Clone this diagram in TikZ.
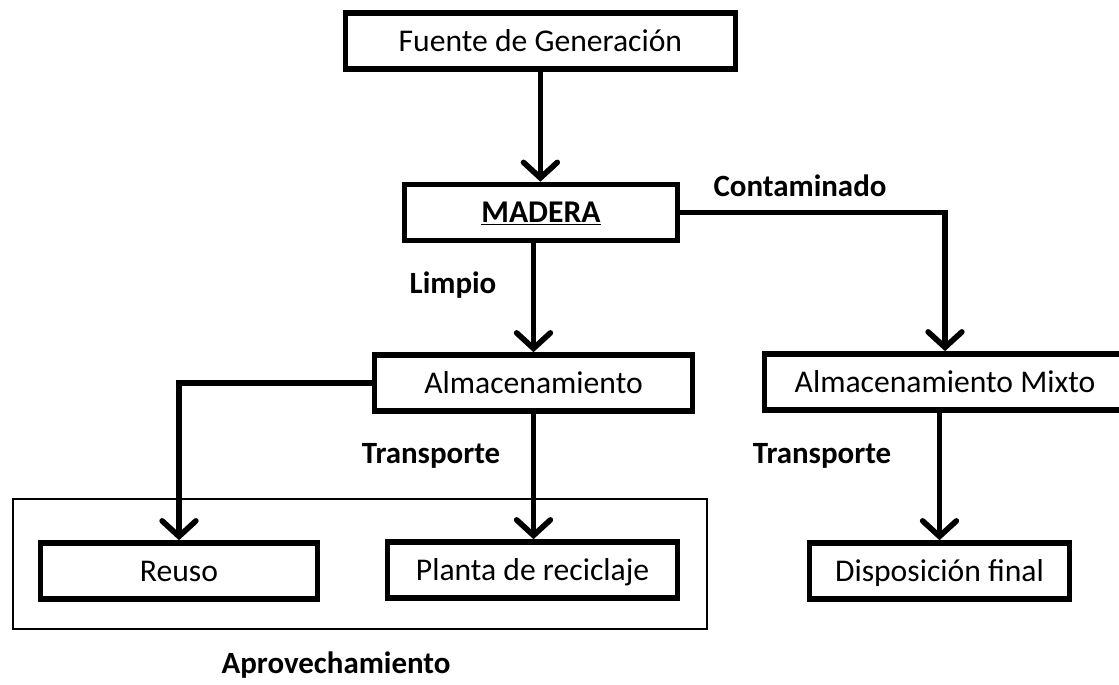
\documentclass[tikz,border=0pt]{standalone}
\usepackage{fontspec}
\setmainfont{Carlito}
\usetikzlibrary{positioning}
\usetikzlibrary{arrows.meta}
\tikzset{boxStyle/.style={rectangle, draw=black, line width=4pt, fill=white, inner sep=0pt, minimum height=1.4cm, text height=14.5pt, text depth=0pt, font=\fontsize{22.5}{26}\selectfont}}
\tikzset{labelStyle/.style={inner sep=0pt, font=\fontsize{22}{26}\selectfont\bfseries}}
\tikzset{groupStyle/.style={rectangle, draw=black, line width=1.6pt, inner sep=0pt}}
\tikzset{post/.style={-{Straight Barb[length=11pt, width=24pt, line cap=round]}, line width=4pt, shorten >=0pt}}

\begin{document}
\begin{tikzpicture}
  \useasboundingbox (0,0) rectangle (27.975,-17.125);
  \clip (0,0) rectangle (27.975,-17.125);

  % group
  \node at (9.0,-14.1) [groupStyle, minimum width=17.35cm, minimum height=3.25cm] (grupo){};

  % nodes
  \node at (13.51,-1.025) [boxStyle, minimum width=9.75cm] (fuente){Fuente de Generación};
  \node at (13.525,-5.3125) [boxStyle, minimum width=6.825cm] (madera){\bfseries\underline{MADERA}};
  \node at (13.3375,-9.575) [boxStyle, minimum width=7.95cm] (alm){Almacenamiento};
  \node at (23.625,-9.55) [boxStyle, minimum width=9.025cm] (mixto){Almacenamiento Mixto};
  \node at (4.475,-14.275) [boxStyle, minimum width=6.925cm] (reuso){Reuso};
  \node at (13.3125,-14.25) [boxStyle, minimum width=7.25cm] (planta){Planta de reciclaje};
  \node at (23.4875,-14.275) [boxStyle, minimum width=6.5cm] (disp){Disposición final};

  % labels
  \node at (20.0,-4.65) [labelStyle] (contam){Contaminado};
  \node at (11.325,-7.125) [labelStyle] (limpio){Limpio};
  \node at (10.775,-11.4) [labelStyle] (transI){Transporte};
  \node at (20.55,-11.4) [labelStyle] (transD){Transporte};
  \node at (8.4,-16.625) [labelStyle] (aprov){Aprovechamiento};

  % lines
  \draw [post] (fuente.south) -- (fuente.south |- madera.north);
  \draw [post] (madera.south -| alm.north) -- (alm.north);
  \draw [post] (madera.east) -| (mixto.north);
  \draw [post] (alm.west) -| (reuso.north);
  \draw [post] (alm.south) -- (alm.south |- planta.north);
  \draw [post] (mixto.south -| disp.north) -- (disp.north);
\end{tikzpicture}
\end{document}
